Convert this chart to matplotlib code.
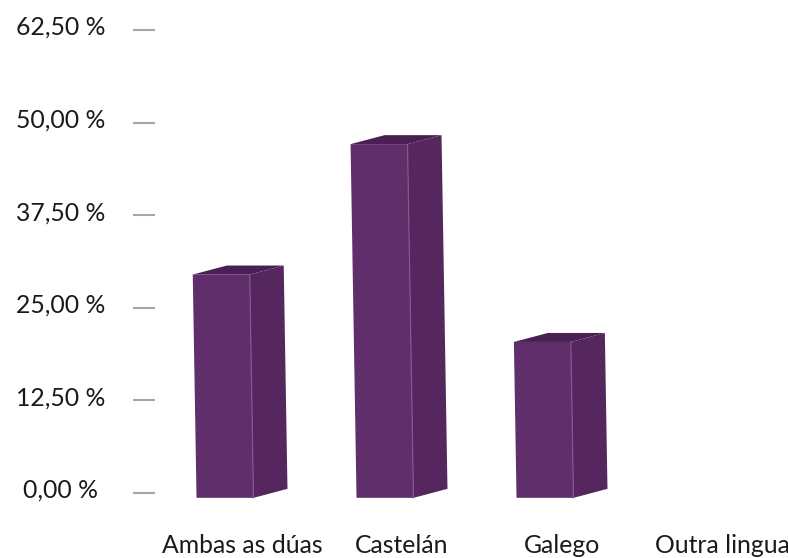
import matplotlib
matplotlib.use("Agg")
import matplotlib.pyplot as plt
from matplotlib.patches import Polygon

categories = ["Ambas as dúas", "Castelán", "Galego", "Outra lingua"]
values = [30.1, 47.7, 21.0, 0.0]
tick_values = [0, 12.5, 25, 37.5, 50, 62.5]
tick_labels = ["0,00 %", "12,50 %", "25,00 %", "37,50 %", "50,00 %", "62,50 %"]

FRONT = "#612e6c"
SIDE = "#56275f"
TOP = "#4a1f53"
EDGE = "#86588f"

fig = plt.figure(figsize=(7.88, 5.58), dpi=100)
ax = fig.add_axes([0, 0, 1, 1])
ax.set_xlim(-1.5125, 3.4125)
ax.set_ylim(-8.77, 66.55)
ax.axis("off")

font = ["Lato", "DejaVu Sans"]

# y ticks (short dashes) and labels
for tv, tl in zip(tick_values, tick_labels):
    ax.plot([-0.68, -0.543], [tv, tv], color="#a6a6a6", lw=1.5, solid_capstyle="butt")
    ax.text(-1.135, tv + 0.35, tl, ha="center", va="center", fontsize=17.8,
            family=font, color="#1a1a1a")

# bar geometry (in data units)
w = 0.356      # front width
dx = 0.2125    # depth in x
dy = 1.215     # depth in y
base = -0.65   # front baseline
skew = 0.00078 # perspective skew per value unit

for i, v in enumerate(values):
    if v <= 0:
        continue
    top_front = v - dy / 2
    h = top_front - base
    xl_b = i - (w + dx) / 2
    xl_t = xl_b - skew * h
    xr_b = xl_b + w
    xr_t = xl_t + w
    front = [(xl_b, base), (xr_b, base), (xr_t, top_front), (xl_t, top_front)]
    side = [(xr_b, base), (xr_b + dx, base + dy), (xr_t + dx, top_front + dy), (xr_t, top_front)]
    top = [(xl_t, top_front), (xr_t, top_front), (xr_t + dx, top_front + dy), (xl_t + dx, top_front + dy)]
    ax.add_patch(Polygon(side, closed=True, facecolor=SIDE, edgecolor="none"))
    ax.add_patch(Polygon(front, closed=True, facecolor=FRONT, edgecolor="none"))
    ax.add_patch(Polygon(top, closed=True, facecolor=TOP, edgecolor="none"))
    ax.plot([xr_b, xr_t], [base, top_front], color=EDGE, lw=0.8)

# category labels
for i, c in enumerate(categories):
    ax.text(i, -7.05, c, ha="center", va="center", fontsize=17.8, family=font,
            color="#1a1a1a")

fig.savefig("out.png", dpi=100)
